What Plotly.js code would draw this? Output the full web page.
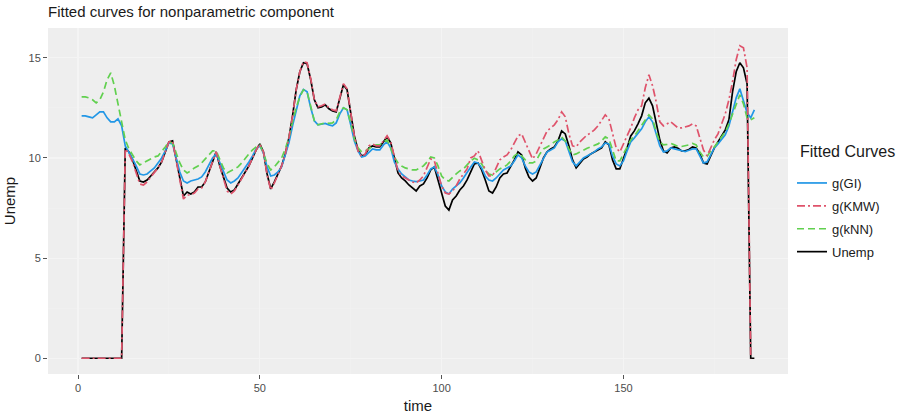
<!DOCTYPE html>
<html>
<head>
<meta charset="utf-8">
<script src="https://cdn.plot.ly/plotly-3.0.1.min.js"></script>
<style>html,body{margin:0;padding:0;background:#fff;}#chart{width:898px;height:415px;}</style>
</head>
<body>
<div id="chart"></div>
<script>
// time index 1..186
const time = [];
for (let i = 1; i <= 186; i++) time.push(i);

const unemp = [
0,0,0,0,0,0,0,0,0,0,0,0,
10.5,10.3,9.9,9.4,8.85,8.8,8.9,9.1,9.3,9.5,9.8,10.25,10.8,10.85,10.0,9.0,8.1,8.3,
8.2,8.3,8.55,8.55,8.8,9.3,9.9,10.3,9.6,9.1,8.5,8.3,8.4,8.7,9.0,9.3,9.6,10.0,10.4,10.7,
10.3,9.2,8.45,8.8,9.2,9.6,10.2,11.0,12.1,13.4,14.3,14.75,14.7,13.9,12.9,12.5,12.55,12.65,12.45,12.35,
12.3,13.0,13.65,13.4,12.3,11.1,10.4,10.1,10.15,10.5,10.6,10.55,10.55,10.8,11.05,10.75,10.0,9.25,9.0,8.85,
8.65,8.5,8.35,8.6,8.7,9.0,9.4,9.55,8.9,8.2,7.6,7.4,7.9,8.1,8.4,8.6,8.9,9.3,9.7,9.75,
9.4,8.9,8.35,8.25,8.55,9.0,9.2,9.25,9.55,9.9,10.3,10.15,9.5,9.05,8.85,9.0,9.5,10.0,10.3,10.45,
10.55,10.85,11.35,11.2,10.6,9.9,9.5,9.75,9.95,10.05,10.2,10.3,10.4,10.5,10.8,10.65,9.9,9.45,9.45,9.95,
10.5,11.1,11.35,11.7,12.1,12.75,12.98,12.6,11.8,10.9,10.35,10.25,10.5,10.55,10.48,10.35,10.35,10.42,10.55,10.5,
10.2,9.75,9.7,10.1,10.5,10.8,11.1,11.4,11.9,13.3,14.3,14.75,14.5,13.7,0,0
];

const gGI = [
12.1,12.1,12.05,12.0,12.15,12.3,12.3,12.0,11.8,11.8,11.95,11.6,
10.6,10.3,9.95,9.6,9.2,9.15,9.2,9.35,9.5,9.75,10.0,10.35,10.75,10.7,10.05,9.3,8.85,8.75,
8.85,8.9,8.95,9.05,9.3,9.65,10.0,10.2,9.75,9.25,8.9,8.75,8.85,9.0,9.25,9.5,9.8,10.1,10.45,10.6,
10.25,9.55,9.1,9.15,9.3,9.55,10.1,10.75,11.6,12.4,13.1,13.42,13.3,12.5,11.85,11.65,11.7,11.72,11.65,11.6,
11.75,12.2,12.5,12.4,11.65,10.85,10.35,10.05,10.1,10.3,10.45,10.4,10.4,10.65,10.8,10.5,9.8,9.45,9.2,9.05,
8.9,8.85,8.82,8.85,8.9,9.15,9.45,9.55,9.15,8.6,8.3,8.2,8.45,8.6,8.75,9.0,9.3,9.55,9.8,9.75,
9.5,9.1,8.9,8.85,9.0,9.2,9.4,9.5,9.6,9.85,10.15,10.0,9.6,9.3,9.2,9.3,9.65,10.0,10.3,10.4,
10.5,10.8,10.95,10.85,10.35,9.8,9.6,9.8,10.0,10.1,10.2,10.3,10.45,10.55,10.75,10.7,10.1,9.7,9.6,9.85,
10.35,10.8,11.0,11.25,11.45,11.8,12.05,11.8,11.2,10.6,10.3,10.35,10.5,10.45,10.4,10.35,10.32,10.38,10.45,10.45,
10.1,9.75,9.8,10.15,10.5,10.7,10.9,11.15,11.6,12.3,13.0,13.45,12.9,12.25,12.0,12.4
];

const gKMW = [
0,0,0,0,0,0,0,0,0,0,0,0,
10.45,10.2,9.8,9.3,8.7,8.65,8.8,9.05,9.25,9.5,9.8,10.25,10.8,10.85,9.95,8.9,7.95,8.15,
8.15,8.25,8.45,8.5,8.8,9.3,9.9,10.3,9.6,9.0,8.35,8.2,8.35,8.65,8.95,9.3,9.6,10.0,10.4,10.7,
10.3,9.15,8.4,8.75,9.2,9.6,10.2,11.0,12.1,13.4,14.3,14.8,14.75,13.95,12.9,12.55,12.6,12.7,12.5,12.4,
12.35,13.05,13.7,13.45,12.3,11.1,10.35,10.05,10.2,10.6,10.7,10.6,10.6,10.85,11.1,10.8,10.0,9.35,9.1,9.0,
8.9,8.8,8.75,8.9,9.1,9.5,9.95,9.85,9.2,8.6,8.25,8.2,8.35,8.6,8.95,9.2,9.45,10.0,10.1,10.35,
9.9,9.4,9.1,9.1,9.5,9.9,10.05,10.15,10.4,10.75,11.1,11.2,10.8,10.35,9.95,10.2,10.6,11.0,11.35,11.5,
11.65,11.9,12.3,12.05,11.2,10.6,10.55,10.8,11.0,11.15,11.25,11.4,11.6,11.9,12.15,11.95,11.2,10.5,10.3,10.7,
11.1,11.5,12.0,12.4,12.6,13.5,14.15,13.6,12.8,11.8,11.6,11.7,11.8,11.65,11.5,11.5,11.55,11.6,11.7,11.6,
11.0,10.4,10.1,10.5,10.9,11.2,11.7,12.2,12.9,13.8,14.9,15.6,15.5,14.5,0,null
];

const gKNN = [
13.05,13.05,13.0,12.9,12.75,12.9,13.3,13.9,14.25,13.6,12.7,11.7,
10.9,10.45,10.15,9.85,9.65,9.75,9.85,9.95,10.05,10.1,10.3,10.55,10.8,10.75,10.25,9.75,9.4,9.25,
9.35,9.5,9.6,9.75,9.95,10.15,10.35,10.35,9.95,9.5,9.25,9.35,9.45,9.55,9.75,10.0,10.2,10.4,10.55,10.65,
10.25,9.7,9.4,9.55,9.75,10.0,10.45,11.0,11.8,12.5,13.05,13.4,13.3,12.5,11.85,11.65,11.7,11.75,11.73,11.75,
11.9,12.3,12.5,12.4,11.75,10.95,10.5,10.3,10.35,10.45,10.6,10.65,10.65,10.8,10.9,10.45,10.05,9.75,9.6,9.5,
9.45,9.4,9.4,9.5,9.6,9.8,10.05,10.0,9.6,9.1,8.9,8.85,9.05,9.2,9.35,9.45,9.65,9.85,9.98,9.9,
9.7,9.4,9.2,9.15,9.3,9.45,9.55,9.65,9.85,10.1,10.23,10.1,9.9,9.75,9.75,9.85,10.2,10.45,10.55,10.65,
10.8,10.9,11.05,10.85,10.45,10.15,10.2,10.3,10.4,10.48,10.55,10.62,10.7,10.85,11.05,10.95,10.4,9.85,9.85,10.2,
10.55,10.9,11.1,11.35,11.6,11.9,12.15,11.95,11.3,10.8,10.65,10.68,10.73,10.65,10.57,10.57,10.6,10.65,10.72,10.65,
10.3,10.05,10.07,10.35,10.55,10.8,11.05,11.3,11.7,12.2,12.75,13.15,12.7,12.0,11.9,12.0
];

const seriesNames = ['g(GI)', 'g(KMW)', 'g(kNN)', 'Unemp'];
const legendTitle = 'Fitted Curves';
const xTicks = [0, 50, 100, 150];
const yTicks = [0, 5, 10, 15];

const lw = 1.7;
const traces = [
  {x: time, y: unemp, name: seriesNames[3], mode: 'lines', line: {color: '#000000', width: lw}, legendrank: 4, legendgroup: 'd'},
  {x: time, y: gGI, name: seriesNames[0], mode: 'lines', line: {color: '#2297E6', width: lw}, legendrank: 1, legendgroup: 'a'},
  {x: time, y: gKNN, name: seriesNames[2], mode: 'lines', line: {color: '#61D04F', width: lw, dash: '7px,4px'}, legendrank: 3, legendgroup: 'c'},
  {x: time, y: gKMW, name: seriesNames[1], mode: 'lines', line: {color: '#DF536B', width: lw, dash: '8px,3px,2px,3px'}, legendrank: 2, legendgroup: 'b'}
];

const font = 'Liberation Sans, Arial, sans-serif';
const layout = {
  width: 898, height: 415,
  margin: {l: 48, r: 110, t: 28, b: 41, pad: 0, autoexpand: false},
  paper_bgcolor: '#FFFFFF',
  plot_bgcolor: '#EEEEEE',
  font: {family: font, color: '#4D4D4D', size: 11},
  title: {text: 'Fitted curves for nonparametric component', x: 0, xanchor: 'left', xref: 'paper',
          y: 1 - 12/415, yref: 'container', yanchor: 'middle', font: {family: font, size: 15, color: '#1A1A1A'}},
  xaxis: {
    range: [-8.25, 195.25], tickvals: xTicks, ticks: 'outside', ticklen: 4, tickcolor: '#555', tickwidth: 1,
    showgrid: true, gridcolor: '#F4F4F4', gridwidth: 1.2, zeroline: false, showline: false,
    minor: {dtick: 25, tick0: 0, showgrid: true, gridcolor: '#F1F1F1', gridwidth: 0.6, ticks: ''},
    tickfont: {size: 11, color: '#4D4D4D'},
    title: {text: 'time', standoff: 7, font: {size: 15, color: '#1A1A1A'}}
  },
  yaxis: {
    range: [-0.785, 16.485], tickvals: yTicks, ticks: 'outside', ticklen: 4, tickcolor: '#555', tickwidth: 1,
    showgrid: true, gridcolor: '#F4F4F4', gridwidth: 1.2, zeroline: false, showline: false,
    minor: {dtick: 2.5, tick0: 0, showgrid: true, gridcolor: '#F1F1F1', gridwidth: 0.6, ticks: ''},
    tickfont: {size: 11, color: '#4D4D4D'},
    title: {text: 'Unemp', standoff: 9, font: {size: 15, color: '#1A1A1A'}}
  },
  legend: {
    x: (792 - 48) / 740, xanchor: 'left', y: 1 - (168 - 28) / 346, yanchor: 'top',
    bgcolor: 'rgba(0,0,0,0)', traceorder: 'grouped', tracegroupgap: 3,
    font: {size: 13, color: '#1A1A1A'}
  },
  annotations: [{
    text: legendTitle, xref: 'paper', yref: 'paper', x: (798 - 48) / 740, y: 1 - (152 - 28) / 346,
    xanchor: 'left', yanchor: 'middle', showarrow: false, font: {family: font, size: 16, color: '#1A1A1A'}
  }],
  showlegend: true
};

Plotly.newPlot('chart', traces, layout, {displayModeBar: false, staticPlot: true});
</script>
</body>
</html>
